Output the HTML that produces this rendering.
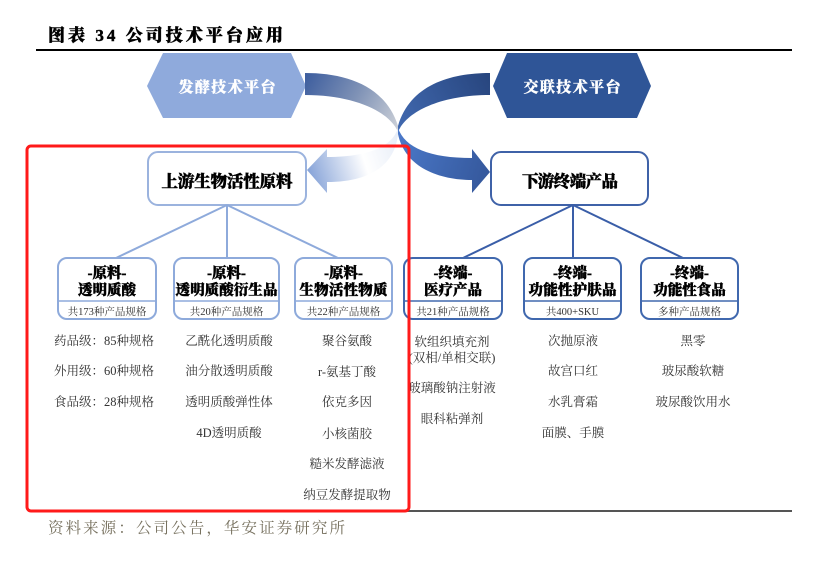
<!DOCTYPE html>
<html><head><meta charset="utf-8"><style>
html,body{margin:0;padding:0;background:#fff;}
svg{display:block;}
.b{font-family:"Liberation Serif","Noto Serif CJK SC",serif;font-weight:900;fill:#000;stroke:#000;stroke-width:0.45px;}
.w{font-family:"Liberation Serif","Noto Serif CJK SC",serif;font-weight:900;fill:#fff;stroke:#fff;stroke-width:0.3px;}
.t{font-family:"Liberation Serif","Noto Serif CJK SC",serif;fill:#333;font-size:12.5px;}
.s{font-family:"Liberation Serif","Noto Serif CJK SC",serif;fill:#333;font-size:10.5px;}
</style></head><body>
<svg width="821" height="564" viewBox="0 0 821 564" xmlns="http://www.w3.org/2000/svg">
<defs>
<linearGradient id="gAu" gradientUnits="userSpaceOnUse" x1="305" y1="80" x2="398" y2="130">
<stop offset="0" stop-color="#3f5f9f"/><stop offset="0.5" stop-color="#7f92b6"/><stop offset="1" stop-color="#cdd1d8"/></linearGradient>
<linearGradient id="gBu" gradientUnits="userSpaceOnUse" x1="490" y1="80" x2="398" y2="130">
<stop offset="0" stop-color="#28467f"/><stop offset="1" stop-color="#4169b0"/></linearGradient>
<linearGradient id="gAl" gradientUnits="userSpaceOnUse" x1="398" y1="140" x2="490" y2="172">
<stop offset="0" stop-color="#4a78c8"/><stop offset="1" stop-color="#35589c"/></linearGradient>
<linearGradient id="gBl" gradientUnits="userSpaceOnUse" x1="398" y1="140" x2="307" y2="170">
<stop offset="0" stop-color="#e8eef8"/><stop offset="0.4" stop-color="#ffffff"/><stop offset="1" stop-color="#86a3d8"/></linearGradient>
</defs>

<!-- title -->
<text x="48" y="41" class="b" font-size="17" textLength="235">图表 34 公司技术平台应用</text>
<line x1="36" y1="50" x2="792" y2="50" stroke="#000" stroke-width="2"/>

<!-- hexagons -->
<polygon points="147,86 163,53 291,53 306,86 291,118 163,118" fill="#8faadc"/>
<polygon points="493,86 507,53 637,53 651,86 637,118 507,118" fill="#2f5597"/>
<text x="227" y="92" text-anchor="middle" class="w" font-size="15" textLength="97">发酵技术平台</text>
<text x="572" y="92" text-anchor="middle" class="w" font-size="15" textLength="97">交联技术平台</text>

<!-- curved arrows -->
<path d="M305,73 C345,73 385,85 398,126 L398,132 C390,112 355,95 305,95 Z" fill="url(#gAu)"/>
<path d="M490,73 C450,73 410,85 398,126 L398,132 C406,112 440,95 490,95 Z" fill="url(#gBu)"/>
<path d="M398,128 C392,148 365,157 327,157 L327,149 L307,170 L327,193 L327,182 C370,182 395,165 398,134 Z" fill="url(#gBl)"/>
<path d="M398,128 C405,148 430,158 472,158 L472,149 L490,172 L472,193 L472,180 C440,180 405,168 398,134 Z" fill="url(#gAl)"/>

<!-- top boxes -->
<rect x="148" y="152" width="158" height="53" rx="10" fill="#fff" stroke="#9bb3de" stroke-width="2"/>
<text x="227" y="187" text-anchor="middle" class="b" font-size="16.5" textLength="131">上游生物活性原料</text>
<rect x="491" y="152" width="157" height="53" rx="10" fill="#fff" stroke="#3f62a8" stroke-width="2"/>
<text x="570" y="187" text-anchor="middle" class="b" font-size="16.5" textLength="96">下游终端产品</text>

<!-- connectors -->
<g stroke="#8eaadb" stroke-width="2" fill="none">
<line x1="227" y1="205" x2="116" y2="258"/><line x1="227" y1="205" x2="227" y2="258"/><line x1="227" y1="205" x2="338" y2="258"/>
</g>
<g stroke="#3a5ea8" stroke-width="2" fill="none">
<line x1="573" y1="205" x2="463" y2="258"/><line x1="573" y1="205" x2="573" y2="258"/><line x1="573" y1="205" x2="683" y2="258"/>
</g>

<!-- child boxes left -->
<g fill="#fff" stroke="#8eaadb" stroke-width="2">
<rect x="58" y="258" width="98" height="61" rx="9"/>
<rect x="174" y="258" width="105" height="61" rx="9"/>
<rect x="295" y="258" width="97" height="61" rx="9"/>
</g>
<g stroke="#8eaadb" stroke-width="1.5">
<line x1="58" y1="301" x2="156" y2="301"/><line x1="174" y1="301" x2="279" y2="301"/><line x1="295" y1="301" x2="392" y2="301"/>
</g>
<!-- child boxes right -->
<g fill="#fff" stroke="#4068ae" stroke-width="2">
<rect x="404" y="258" width="98" height="61" rx="9"/>
<rect x="524" y="258" width="97" height="61" rx="9"/>
<rect x="641" y="258" width="97" height="61" rx="9"/>
</g>
<g stroke="#4068ae" stroke-width="1.5">
<line x1="404" y1="301" x2="502" y2="301"/><line x1="524" y1="301" x2="621" y2="301"/><line x1="641" y1="301" x2="738" y2="301"/>
</g>

<g class="b" font-size="14.5" text-anchor="middle">
<text x="107" y="278">-原料-</text><text x="107" y="295">透明质酸</text>
<text x="226.5" y="278">-原料-</text><text x="226.5" y="295" textLength="102">透明质酸衍生品</text>
<text x="343.5" y="278">-原料-</text><text x="343.5" y="295" textLength="88">生物活性物质</text>
<text x="453" y="278">-终端-</text><text x="453" y="295">医疗产品</text>
<text x="572.5" y="278">-终端-</text><text x="572.5" y="295" textLength="88">功能性护肤品</text>
<text x="689.5" y="278">-终端-</text><text x="689.5" y="295">功能性食品</text>
</g>
<g class="s" text-anchor="middle">
<text x="107" y="315">共173种产品规格</text>
<text x="226.5" y="315">共20种产品规格</text>
<text x="343.5" y="315">共22种产品规格</text>
<text x="453" y="315">共21种产品规格</text>
<text x="572.5" y="315">共400+SKU</text>
<text x="689.5" y="315">多种产品规格</text>
</g>

<!-- lists -->
<g class="t" text-anchor="middle">
<text x="104" y="345">药品级：85种规格</text>
<text x="104" y="375">外用级：60种规格</text>
<text x="104" y="406">食品级：28种规格</text>

<text x="229" y="345">乙酰化透明质酸</text>
<text x="229" y="375">油分散透明质酸</text>
<text x="229" y="406">透明质酸弹性体</text>
<text x="229" y="437">4D透明质酸</text>

<text x="347" y="345">聚谷氨酸</text>
<text x="347" y="376">r-氨基丁酸</text>
<text x="347" y="406">依克多因</text>
<text x="347" y="438">小核菌胶</text>
<text x="347" y="468">糙米发酵滤液</text>
<text x="347" y="499">纳豆发酵提取物</text>

<text x="452" y="346">软组织填充剂</text>
<text x="452" y="362">(双相/单相交联)</text>
<text x="452" y="392">玻璃酸钠注射液</text>
<text x="452" y="423">眼科粘弹剂</text>

<text x="573" y="345">次抛原液</text>
<text x="573" y="375">故宫口红</text>
<text x="573" y="406">水乳膏霜</text>
<text x="573" y="437">面膜、手膜</text>

<text x="693" y="345">黑零</text>
<text x="693" y="375">玻尿酸软糖</text>
<text x="693" y="406">玻尿酸饮用水</text>
</g>

<!-- bottom line & source -->
<line x1="36" y1="511" x2="792" y2="511" stroke="#555" stroke-width="2"/>
<text x="48" y="533" font-family="'Liberation Serif','Noto Serif CJK SC',serif" font-size="15.5" fill="#77715f" textLength="297">资料来源：公司公告，华安证券研究所</text>

<!-- red highlight -->
<rect x="27" y="146" width="382" height="365" rx="4" fill="none" stroke="#ff1a1a" stroke-width="3"/>
</svg>
</body></html>
